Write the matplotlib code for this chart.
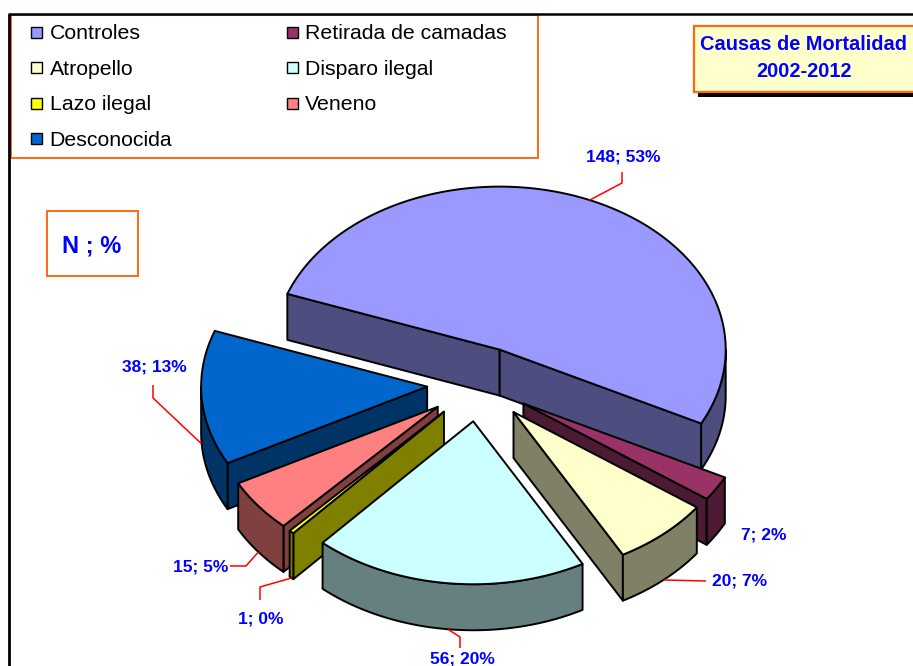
import numpy as np
import matplotlib
matplotlib.use("Agg")
import matplotlib.pyplot as plt
from matplotlib.patches import Polygon, Rectangle
from matplotlib.colors import to_rgb

# data
categories = [
    "Controles",
    "Retirada de camadas",
    "Atropello",
    "Disparo ilegal",
    "Lazo ilegal",
    "Veneno",
    "Desconocida",
]
values = [148, 7, 20, 56, 1, 15, 38]
percents = [53, 2, 7, 20, 0, 5, 13]
colors = ["#9999FF", "#993366", "#FFFFCC", "#CCFFFF", "#FFFF00", "#FF8080", "#0066CC"]

title_lines = ["Causas de Mortalidad", "2002-2012"]

# layout (pixels, y down)
W, H = 913, 666
CX, CY = 479, 384
RX, RY = 226, 163
DEPTH = 46
EXPLODE = 0.23
START = 290
ORANGE = "#FF6A10"
BLUE = "#0000FF"
FONT = "Liberation Sans"

label_pos = [(623, 161), (764, 540), (740, 586), (462, 664), (261, 623), (201, 571), (154, 372)]
leader_pts = [
    [(622, 183), (622, 172)],
    [],
    [(706, 581)],
    [(460, 637), (460, 648)],
    [(260, 587), (260, 600)],
    [(246, 566), (230, 566)],
    [(153, 398), (153, 385)],
]


def pt(cx, cy, deg, dz=0.0):
    t = np.radians(deg)
    return cx + RX * np.sin(t), cy - RY * np.cos(t) + dz


def arc(cx, cy, a, b, dz=0.0):
    n = max(2, int(abs(b - a)) + 2)
    ts = np.linspace(a, b, n)
    return [pt(cx, cy, t, dz) for t in ts]


fig = plt.figure(figsize=(W / 100, H / 100), dpi=100)
ax = fig.add_axes([0, 0, 1, 1])
ax.set_xlim(0, W)
ax.set_ylim(H, 0)
ax.axis("off")

total = sum(values)
edges = START + 360.0 * np.concatenate([[0], np.cumsum(values)]) / total

slices = []
for i, v in enumerate(values):
    a1, a2 = edges[i], edges[i + 1]
    mid = 0.5 * (a1 + a2)
    t = np.radians(mid)
    cx = CX + EXPLODE * RX * np.sin(t)
    cy = CY - EXPLODE * RY * np.cos(t)
    slices.append((i, a1, a2, mid, cx, cy))

lw = 1.4
# side faces, back to front
for i, a1, a2, mid, cx, cy in sorted(slices, key=lambda s: -np.cos(np.radians(s[3]))):
    side = np.array(to_rgb(colors[i])) * 0.5
    for a, vis in ((a1, np.sin(np.radians(a1)) < 0), (a2, np.sin(np.radians(a2)) > 0)):
        if not vis:
            continue
        p0 = (cx, cy)
        p1 = pt(cx, cy, a)
        p2 = pt(cx, cy, a, DEPTH)
        p3 = (cx, cy + DEPTH)
        ax.add_patch(Polygon([p0, p1, p2, p3], closed=True, facecolor=side,
                             edgecolor="black", lw=lw, joinstyle="round", zorder=2))
    for k in (0, 1):
        lo = max(a1, 90 + 360 * k)
        hi = min(a2, 270 + 360 * k)
        if hi > lo:
            pts = arc(cx, cy, lo, hi) + arc(cx, cy, hi, lo, DEPTH)
            ax.add_patch(Polygon(pts, closed=True, facecolor=side,
                                 edgecolor="black", lw=lw, joinstyle="round", zorder=2))

# top faces
for i, a1, a2, mid, cx, cy in slices:
    pts = [(cx, cy)] + arc(cx, cy, a1, a2)
    ax.add_patch(Polygon(pts, closed=True, facecolor=colors[i],
                         edgecolor="black", lw=lw, joinstyle="round", zorder=3))

# data labels with leader lines
for i, a1, a2, mid, cx, cy in slices:
    if leader_pts[i]:
        dz = 0 if np.cos(np.radians(mid)) > 0 else DEPTH
        anchor = pt(cx, cy, mid, dz)
        path = [anchor] + leader_pts[i]
        xs, ys = zip(*path)
        ax.plot(xs, ys, color="#FF0000", lw=1.1, zorder=4, solid_capstyle="butt")
    lx, ly = label_pos[i]
    ax.text(lx, ly, f"{values[i]}; {percents[i]}%", ha="center", va="baseline",
            color=BLUE, fontsize=12.5, fontweight="bold", family=FONT, zorder=5)

# chart area border (cropped)
ax.plot([9, 9], [14, H + 5], color="black", lw=2, zorder=6, solid_capstyle="butt")
ax.plot([8, W + 5], [14, 14], color="black", lw=1.8, zorder=6, solid_capstyle="butt")

# legend
ax.add_patch(Rectangle((10.5, 15), 527.5, 143, facecolor="white", edgecolor=ORANGE,
                       lw=1.4, zorder=5))
for i, name in enumerate(categories):
    row, col = divmod(i, 2)
    mx = 31 if col == 0 else 287
    tx = 49.5 if col == 0 else 305
    base = 39.3 + 35.5 * row
    ax.add_patch(Rectangle((mx, base - 12.5), 11, 11, facecolor=colors[i],
                           edgecolor="black", lw=1.0, zorder=6))
    ax.text(tx, base, name, ha="left", va="baseline", fontsize=15.3,
            family=FONT, color="black", zorder=6)

# title box with shadow
ax.add_patch(Rectangle((698, 30), 240, 67, facecolor="black", edgecolor="none", zorder=6))
ax.add_patch(Rectangle((693.5, 25.5), 240, 66.5, facecolor="#FFFFCC", edgecolor=ORANGE,
                       lw=1.6, zorder=7))
for line, base in zip(title_lines, (50, 77)):
    ax.text(804, base, line, ha="center", va="baseline", fontsize=14.4,
            fontweight="bold", color=BLUE, family=FONT, zorder=8)

# N ; % box
ax.add_patch(Rectangle((46.5, 210.5), 91, 65.5, facecolor="white", edgecolor=ORANGE,
                       lw=1.4, zorder=6))
ax.text(92, 253, "N ; %", ha="center", va="baseline", fontsize=17,
        fontweight="bold", color=BLUE, family=FONT, zorder=7)

fig.savefig("out.png", dpi=100)
